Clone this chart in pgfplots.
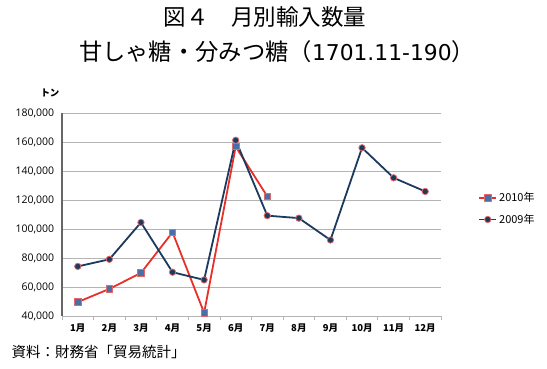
\documentclass[border=0pt]{standalone}
\usepackage{pgfplots}
\pgfplotsset{compat=1.18}
\usepackage{fontspec}
\setmainfont{Noto Sans CJK JP}
\newfontfamily\numfont{Open Sans}
\newfontfamily\wide{DejaVu Sans}
\definecolor{redl}{HTML}{E8302A}
\definecolor{navy}{HTML}{1B3A5E}
\definecolor{mkblue}{HTML}{4A6FA8}
\definecolor{mkedge}{HTML}{E06A6A}
\definecolor{gridc}{HTML}{B4B4B4}
\begin{document}
\begin{tikzpicture}
\path[use as bounding box] (0pt,0pt) rectangle (547pt,368pt);
\node[font=\fontsize{22.5}{26}\selectfont] at (265pt,351pt) {図４　月別輸入数量};
\node[font=\fontsize{23.3}{26}\selectfont] at (277pt,316pt) {甘しゃ糖・分みつ糖（{\wide\fontsize{21.8}{26}\selectfont 1701.11-190}）};
\node[font=\fontsize{9.5}{11}\selectfont\bfseries] at (50pt,275pt) {トン};
\node[anchor=west,font=\fontsize{14.5}{17}\selectfont] at (8pt,16pt) {資料：財務省「貿易統計」};
\begin{axis}[
  at={(62pt,52pt)}, anchor=south west,
  scale only axis, width=379pt, height=203pt,
  xmin=0.5, xmax=12.5, ymin=40000, ymax=180000,
  xtick={1,...,12},
  xticklabels={1月,2月,3月,4月,5月,6月,7月,8月,9月,10月,11月,12月},
  minor xtick={0.5,1.5,...,12.5},
  ytick={40000,60000,80000,100000,120000,140000,160000,180000},
  yticklabels={{40,000},{60,000},{80,000},{100,000},{120,000},{140,000},{160,000},{180,000}},
  scaled y ticks=false,
  yticklabel style={font=\numfont\fontsize{10.5}{12}\selectfont},
  xticklabel style={font=\fontsize{9.5}{11}\selectfont\bfseries},
  major x tick style={draw=none},
  minor x tick style={draw=gridc,line width=0.8pt},
  minor tick length=4pt,
  y tick style={draw=none},
  ymajorgrids, grid style={gridc,line width=1pt},
  axis x line*=bottom, axis y line*=left,
  x axis line style={gridc,line width=1pt,-},
  y axis line style={gray!80!black,line width=1.5pt,-},
  tick align=outside,
  clip=false,
  legend style={at={(1.09,0.63)},anchor=north west,draw=none,fill=none,
    font=\fontsize{11}{13}\selectfont,row sep=7pt,
    cells={anchor=west}},
]
\addplot[redl,line width=1.8pt,mark=square*,mark size=3.2pt,
  mark options={fill=mkblue,draw=mkedge,line width=0.8pt}] coordinates {
(1,49600) (2,58700) (3,69700) (4,97700) (5,42200) (6,156800) (7,122500)};
\addlegendentry{2010年}
\addplot[navy,line width=1.8pt,mark=*,mark size=3.2pt,
  mark options={fill=navy,draw=mkedge,line width=0.8pt}] coordinates {
(1,74200) (2,79100) (3,104500) (4,70200) (5,64900) (6,161200) (7,109200) (8,107500) (9,92400) (10,156000) (11,135300) (12,125900)};
\addlegendentry{2009年}
\end{axis}
\end{tikzpicture}
\end{document}
